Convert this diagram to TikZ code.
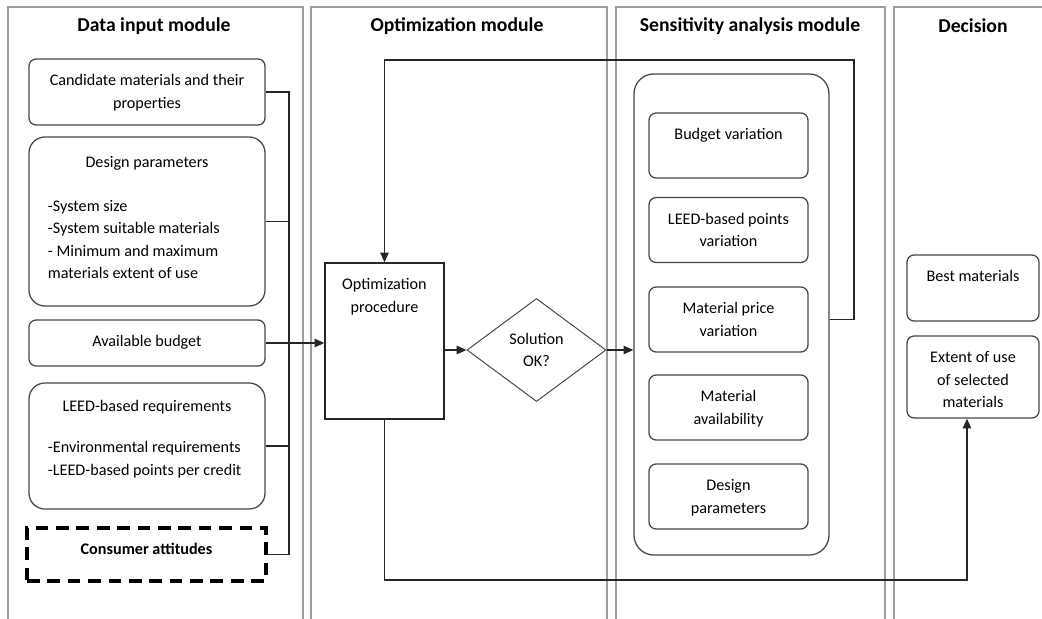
\documentclass[tikz,border=0pt]{standalone}
\usepackage{fontspec}
\setmainfont{Carlito}
\usetikzlibrary{shapes.geometric,arrows.meta}
\setlength{\parindent}{0pt}

\begin{document}
\begin{tikzpicture}[x=0.025cm,y=-0.025cm,
	lane/.style={draw=black!38, line width=1.1pt},
	head/.style={font=\fontsize{14}{16}\selectfont\bfseries},
	tbox/.style 2 args={draw=black!72, line width=0.9pt, rounded corners=0.18cm, inner sep=0pt,
		font=\fontsize{11.5}{16}\selectfont,
		execute at begin node={\begin{minipage}[c][#2][t]{#1}\centering\vspace{11pt}},
		execute at end node={\end{minipage}}},
	link/.style={draw=black!85, line width=1pt},
	arr/.style={-{Triangle[length=7pt,width=6pt]}}]

\useasboundingbox (0,0) rectangle (1042,619);

\foreach \l/\r in {8/303, 311/607, 616/885, 894/1060}{
	\draw[lane] (\l,625)--(\l,7)--(\r,7)--(\r,625);
}

\foreach \x/\n/\t in {154/hdata/Data input module, 457/hopt/Optimization module, 750/hsens/Sensitivity analysis module, 973/hdec/Decision}{
	\node[head] (\n) at (\x,26) {\t};
}

\node[tbox={5.9cm}{1.65cm}] (cand) at (147,92) {Candidate materials and their\\properties};
\node[tbox={5.9cm}{4.225cm}, rounded corners=0.4cm] (design) at (147,221.5) {\vspace{3pt}Design parameters\par\vspace{15pt}\raggedright\leftskip=0.475cm
	-System size\\-System suitable materials\\- Minimum and maximum\\materials extent of use\par};
\node[tbox={5.9cm}{1.15cm}] (budget) at (147,343) {Available budget};
\node[tbox={5.9cm}{3.15cm}, rounded corners=0.4cm] (leedreq) at (147,446) {\vspace{1.5pt}LEED-based requirements\par\vspace{13pt}\raggedright\leftskip=0.475cm
	-Environmental requirements\\-LEED-based points per credit\par};
\node[tbox={5.975cm}{1.325cm}, sharp corners, draw=black, line width=2.2pt, dash pattern=on 9pt off 5.5pt,
	font=\fontsize{11.5}{16}\selectfont\bfseries] (cons) at (146.5,554.5) {Consumer attitudes};

\node[tbox={2.975cm}{3.9cm}, sharp corners, draw=black!85] (opt) at (384.5,341) {Optimization\\procedure};
\node[diamond, draw=black!72, line width=0.7pt, minimum width=3.475cm, minimum height=2.575cm, inner sep=0pt,
	align=center, font=\fontsize{11.5}{16}\selectfont] (dia) at (536.5,350) {Solution\\OK?};

\node[draw=black!72, line width=0.9pt, rounded corners=0.5cm, minimum width=4.875cm, minimum height=12.025cm, inner sep=0pt] (sens) at (731.5,314.5) {};
\foreach \n/\y/\t in {bv/145.5/Budget variation, lp/230/{LEED-based points\\variation}, mp/319.5/{Material price\\variation}, ma/407.5/{Material\\availability}, dp/496.5/{Design\\parameters}}{
	\node[tbox={3.975cm}{1.625cm}] (\n) at (728.5,\y) {\t};
}

\node[tbox={3.3cm}{1.65cm}] (best) at (973,288) {Best materials};
\node[tbox={3.3cm}{2.05cm}] (ext) at (973,377) {Extent of use\\of selected\\materials};

\coordinate (bus) at (289,0);
\coordinate (fb) at (854,60);
\coordinate (low) at (0,580);

\draw[link] (cand.east)--(cand.east -| bus)--(cons.east -| bus)--(cons.east);
\foreach \n in {design,leedreq}{
	\draw[link] (\n.east)--(\n.east -| bus);
}
\draw[link,arr] (budget.east)--(budget.east -| opt.west);
\draw[link,arr] (opt.east |- dia.west)--(dia.west);
\draw[link,arr] (dia.east)--(dia.east -| sens.west);
\draw[link,arr] (sens.east |- mp.east) -| (fb) -| (opt.north);
\draw[link,arr] (opt.south)--(opt.south |- low) -| ([xshift=-0.15cm]ext.south);

\end{tikzpicture}
\end{document}
